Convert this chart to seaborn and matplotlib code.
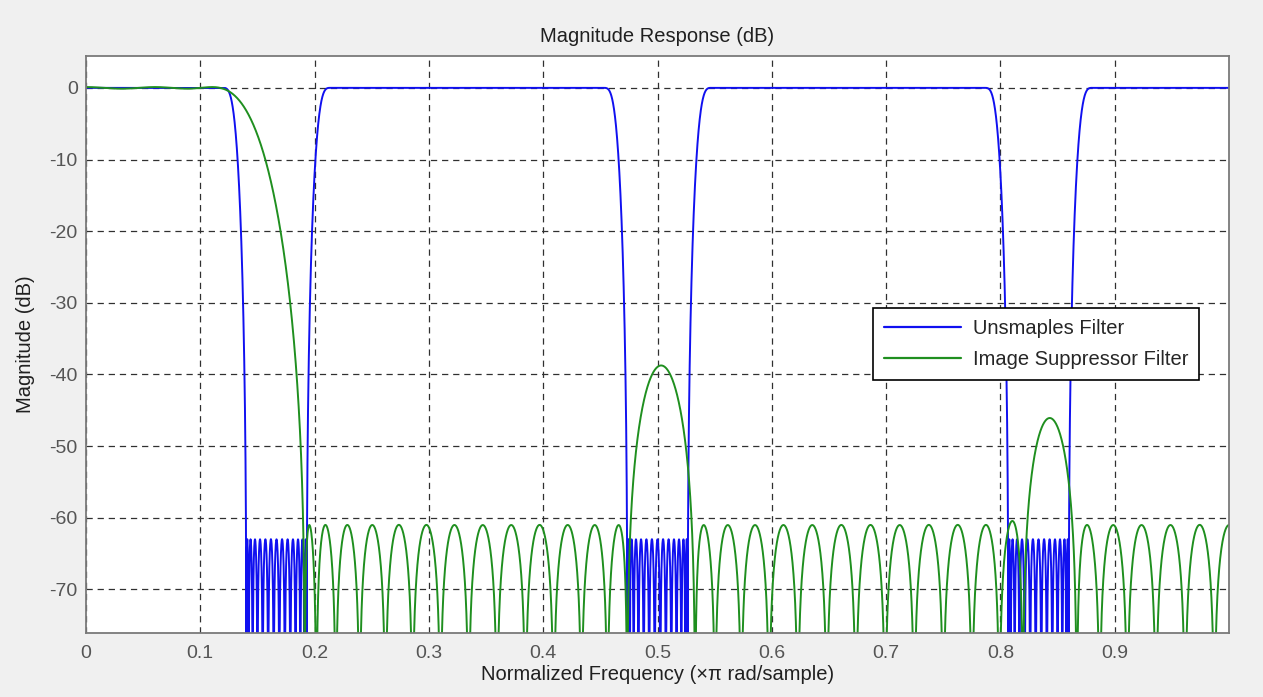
import numpy as np
import pandas as pd
import matplotlib
matplotlib.use("Agg")
import matplotlib.pyplot as plt
import seaborn as sns

# ---- filter specifications (normalized frequency, x pi rad/sample) ----
UPSAMPLE_FACTOR = 6
model_taps = 65
model_edges = [(0.0, 0.727), (0.84, 1.0)]
model_gain = [1.0, 0.0]
model_stop_db = 63.0

suppressor_taps = 77
suppressor_edges = [(0.0, 0.12), (0.19, 0.47), (0.53, 0.808), (0.863, 1.0)]
suppressor_gain = [1.0, 0.0, 0.0, 0.0]
suppressor_stop_db = 61.0

series_labels = ["Unsmaples Filter", "Image Suppressor Filter"]
series_colors = ["#1010f0", "#1f8f1f"]

x_ticks = [0, 0.1, 0.2, 0.3, 0.4, 0.5, 0.6, 0.7, 0.8, 0.9]
x_tick_labels = ["0", "0.1", "0.2", "0.3", "0.4", "0.5", "0.6", "0.7", "0.8", "0.9"]
y_ticks = [0, -10, -20, -30, -40, -50, -60, -70]
y_tick_labels = ["0", "-10", "-20", "-30", "-40", "-50", "-60", "-70"]
x_limits = (0.0, 1.0)
y_limits = (-76.1, 4.45)


def lawson_fir(numtaps, edges, gains, stop_weight, iters=300):
    """Linear-phase (type I) minimax FIR via Lawson's iteratively reweighted LS."""
    m = (numtaps - 1) // 2
    k = np.arange(m + 1)
    fs, ds, ws = [], [], []
    for (lo, hi), g in zip(edges, gains):
        n = max(int(np.ceil((hi - lo) * 20 * m)), 8)
        f = np.linspace(lo, hi, n)
        fs.append(f)
        ds.append(np.full(n, g))
        ws.append(np.full(n, 1.0 if g > 0 else stop_weight))
    f = np.concatenate(fs)
    d = np.concatenate(ds)
    w = np.concatenate(ws)
    c = np.cos(np.pi * np.outer(f, k))
    v = np.full(f.size, 1.0 / f.size)
    a = None
    for _ in range(iters):
        s = np.sqrt(v) * w
        a = np.linalg.lstsq(c * s[:, None], d * s, rcond=None)[0]
        e = np.abs(w * (c @ a - d))
        v = v * e + 1e-30
        v /= v.sum()
    return a


def amplitude(coefs, f):
    k = np.arange(coefs.size)
    return np.cos(np.pi * np.outer(f, k)) @ coefs


def stopband_peak(coefs, edges, gains):
    peak = 0.0
    for (lo, hi), g in zip(edges, gains):
        if g == 0:
            f = np.linspace(lo, hi, 2000)
            peak = max(peak, np.abs(amplitude(coefs, f)).max())
    return peak


def design_to_attenuation(numtaps, edges, gains, stop_db):
    """Choose the stopband weight so the stopband peak sits at -stop_db."""
    target = 10 ** (-stop_db / 20)
    lo, hi = -2.0, 3.0
    for _ in range(14):
        mid = 0.5 * (lo + hi)
        coefs = lawson_fir(numtaps, edges, gains, 10 ** mid, iters=200)
        if stopband_peak(coefs, edges, gains) > target:
            lo = mid
        else:
            hi = mid
    return lawson_fir(numtaps, edges, gains, 10 ** hi, iters=400)


model = design_to_attenuation(model_taps, model_edges, model_gain, model_stop_db)
suppressor = design_to_attenuation(suppressor_taps, suppressor_edges,
                                   suppressor_gain, suppressor_stop_db)

freq = np.linspace(0.0, 1.0, 8192)
# upsampling by L maps H(z) -> H(z^L): response at f equals the prototype at L*f
upsampled_db = 20 * np.log10(np.maximum(np.abs(amplitude(model, UPSAMPLE_FACTOR * freq)), 1e-9))
suppressor_db = 20 * np.log10(np.maximum(np.abs(amplitude(suppressor, freq)), 1e-9))

df = pd.DataFrame({
    "freq": np.concatenate([freq, freq]),
    "db": np.concatenate([upsampled_db, suppressor_db]),
    "filter": np.repeat(series_labels, freq.size),
})

# ---- styling ----
sns.set_style("white")
plt.rcParams["font.family"] = ["Liberation Sans", "DejaVu Sans"]
plt.rcParams["axes.unicode_minus"] = False
plt.rcParams["lines.scale_dashes"] = False

LABEL_SIZE = 14.5
TICK_SIZE = 14

fig = plt.figure(figsize=(12.63, 6.97), dpi=100)
fig.patch.set_facecolor("#f0f0f0")
ax = fig.add_axes([86 / 1263, 64 / 697, 1143 / 1263, 577 / 697])
ax.set_facecolor("white")

sns.lineplot(data=df, x="freq", y="db", hue="filter", hue_order=series_labels,
             palette=series_colors, estimator=None, sort=False,
             linewidth=1.4, ax=ax)

ax.set_xlim(*x_limits)
ax.set_ylim(*y_limits)
ax.set_xticks(x_ticks)
ax.set_xticklabels(x_tick_labels)
ax.set_yticks(y_ticks)
ax.set_yticklabels(y_tick_labels)

ax.grid(True, color="#303030", linestyle=(0, (4.5, 3.5)), linewidth=0.9)
ax.set_axisbelow(True)
for sp in ax.spines.values():
    sp.set_color("#7a7a7a")
    sp.set_linewidth(1.3)
ax.tick_params(axis="both", which="both", direction="in", length=4,
               color="#7a7a7a", labelsize=TICK_SIZE, labelcolor="#555555")
ax.tick_params(axis="x", pad=9)
ax.tick_params(axis="y", pad=6)

ax.set_title("Magnitude Response (dB)", fontsize=LABEL_SIZE, color="#202020", pad=10)
ax.set_xlabel("Normalized Frequency (\u00d7\u03c0 rad/sample)", fontsize=LABEL_SIZE,
              color="#202020", labelpad=2)
ax.set_ylabel("Magnitude (dB)", fontsize=LABEL_SIZE, color="#202020", labelpad=10)

leg = ax.legend(loc="upper left", bbox_to_anchor=(0.6885, 0.563), frameon=True,
                fancybox=False, edgecolor="black", facecolor="white",
                framealpha=1.0, fontsize=LABEL_SIZE, handlelength=3.8,
                handletextpad=0.6, labelspacing=0.6, borderpad=0.55,
                borderaxespad=0.0)
leg.get_frame().set_linewidth(1.2)
for line in leg.get_lines():
    line.set_linewidth(1.6)

fig.savefig("out.png", dpi=100, facecolor=fig.get_facecolor())
